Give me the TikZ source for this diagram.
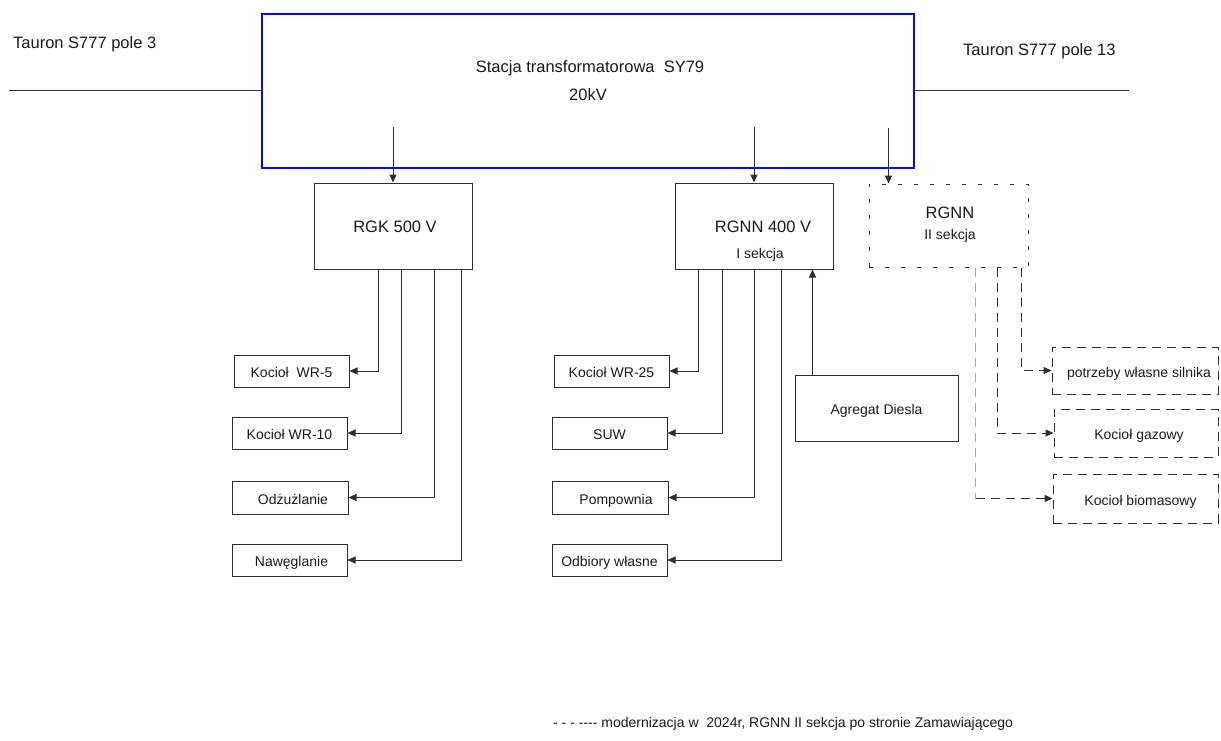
\documentclass[tikz,border=0pt]{standalone}
\usepackage{fontspec}
\setmainfont{Liberation Sans}
\usetikzlibrary{arrows.meta,calc}
\definecolor{ln}{HTML}{2E2E2E}
\definecolor{tx}{HTML}{1A1A1A}
\definecolor{stblue}{HTML}{0A0AE6}
\definecolor{lgray}{HTML}{A8A8A8}
\begin{document}
\begin{tikzpicture}[x=1pt,y=-1pt,
  box/.style={draw=ln, line width=1pt, rectangle, inner sep=0pt},
  sbox/.style={box, text=tx, font=\fontsize{14}{16}\selectfont, text height=13pt, text depth=0pt},
  dbox/.style={sbox, dash pattern=on 9pt off 6pt},
  big/.style={text=tx, inner sep=0pt, anchor=base, font=\fontsize{16.5}{19}\selectfont},
  small/.style={text=tx, inner sep=0pt, anchor=base, font=\fontsize{14}{16}\selectfont},
  tip/.style={-{Triangle[length=8pt,width=7pt]}},
  arr/.style={draw=ln, line width=1pt, tip},
  wire/.style={draw=ln, line width=1pt},
  dl/.style={draw=ln, line width=1pt, dash pattern=on 9pt off 6pt}
]
\useasboundingbox (0,0) rectangle (1221,740);
\clip (0,0) rectangle (1221,740);

% station
\node[box, draw=stblue, line width=2pt, minimum width=652pt, minimum height=154pt] (st) at (588,91) {};
\node[big] (sttl) at (590,72) {Stacja transformatorowa\ \ SY79};
\node[big] (stkv) at (588,100) {20kV};

% incoming lines
\node[big, anchor=base west] (t3) at (13,48) {Tauron S777 pole 3};
\node[big, anchor=base west] (t13) at (963,55) {Tauron S777 pole 13};
\coordinate (lend) at (9,90);
\coordinate (rend) at (1129,90);
\draw[wire] (lend) -- (lend -| st.west);
\draw[wire] (st.east |- rend) -- (rend);

% distribution boards
\node[box, minimum width=158pt, minimum height=86pt] (rgk) at (393,226) {};
\node[big] (rgkt) at (395,232) {RGK 500 V};
\node[box, minimum width=158pt, minimum height=86pt] (rg1) at (754,226) {};
\node[big] (rg1t) at (763,232) {RGNN 400 V};
\node[small] (rg1s) at (760,258) {I sekcja};
\node[box, dash pattern=on 4pt off 12pt, minimum width=159pt, minimum height=83pt] (rg2) at (948.5,225.5) {};
\node[big] (rg2t) at (950,218) {RGNN};
\node[small] (rg2s) at (950,239) {II sekcja};

% feeds from station
\draw[arr] ([yshift=56pt]rgk.north) -- (rgk.north);
\draw[arr] ([yshift=56pt]rg1.north) -- (rg1.north);
\draw[arr] ([shift={(20,-56)}]rg2.north west) -- ([xshift=20pt]rg2.north west);

% RGK loads
\node[sbox, minimum width=115pt, minimum height=32pt] (wr5) at (291.5,371) {Kocioł\ \ WR-5};
\node[sbox, minimum width=115pt, minimum height=32pt] (wr10) at (289.5,433) {Kocioł WR-10};
\node[sbox, minimum width=116pt, minimum height=33pt] (odz) at (290,497.5) {\hspace{6pt}Odżużlanie};
\node[sbox, minimum width=115pt, minimum height=32pt] (naw) at (289.5,560) {\hspace{4pt}Nawęglanie};
\draw[arr] ([xshift=65pt]rgk.south west) |- (wr5.east);
\draw[arr] ([xshift=88pt]rgk.south west) |- (wr10.east);
\draw[arr] ([xshift=121pt]rgk.south west) |- (odz.east);
\draw[arr] ([xshift=148pt]rgk.south west) |- (naw.east);

% RGNN I loads
\node[sbox, minimum width=115pt, minimum height=32pt] (wr25) at (611.5,371) {Kocioł WR-25};
\node[sbox, minimum width=115pt, minimum height=32pt] (suw) at (609.5,433) {SUW\hspace{8pt}};
\node[sbox, minimum width=116pt, minimum height=33pt] (pomp) at (610,497.5) {\hspace{12pt}Pompownia};
\node[sbox, minimum width=115pt, minimum height=32pt] (odb) at (609.5,560) {Odbiory własne\hspace{8pt}};
\draw[arr] ([xshift=24pt]rg1.south west) |- (wr25.east);
\draw[arr] ([xshift=48pt]rg1.south west) |- (suw.east);
\draw[arr] ([xshift=80pt]rg1.south west) |- (pomp.east);
\draw[arr] ([xshift=107pt]rg1.south west) |- (odb.east);

% diesel
\node[sbox, minimum width=163pt, minimum height=66pt] (agg) at (876.5,408) {Agregat Diesla\hspace{16pt}};
\draw[arr] ([xshift=18pt]agg.north west) -- ([xshift=18pt]agg.north west |- rg1.south);

% RGNN II loads
\node[dbox, minimum width=166pt, minimum height=47pt] (pot) at (1135,370.5) {\hspace{8pt}potrzeby własne silnika};
\node[dbox, minimum width=164pt, minimum height=48pt] (gaz) at (1136,433) {\hspace{6pt}Kocioł gazowy};
\node[dbox, minimum width=165pt, minimum height=49pt] (bio) at (1135.5,498.5) {\hspace{10pt}Kocioł biomasowy};
\coordinate (b1) at ([xshift=107pt]rg2.south west);
\coordinate (b2) at ([xshift=129pt]rg2.south west);
\coordinate (b3) at ([xshift=153pt]rg2.south west);
\draw[dl, draw=lgray] (b1) -- (b1 |- bio.west);
\draw[dl, tip] (b1 |- bio.west) -- (bio.west);
\draw[dl, tip] (b2) |- (gaz.west);
\draw[dl, tip] (b3) |- (pot.west);

% footer
\node[small, anchor=base west] (foot) at (553,727) {- - - {-}{-}{-}{-} modernizacja w\ \ 2024r, RGNN II sekcja po stronie Zamawiającego};
\end{tikzpicture}
\end{document}
